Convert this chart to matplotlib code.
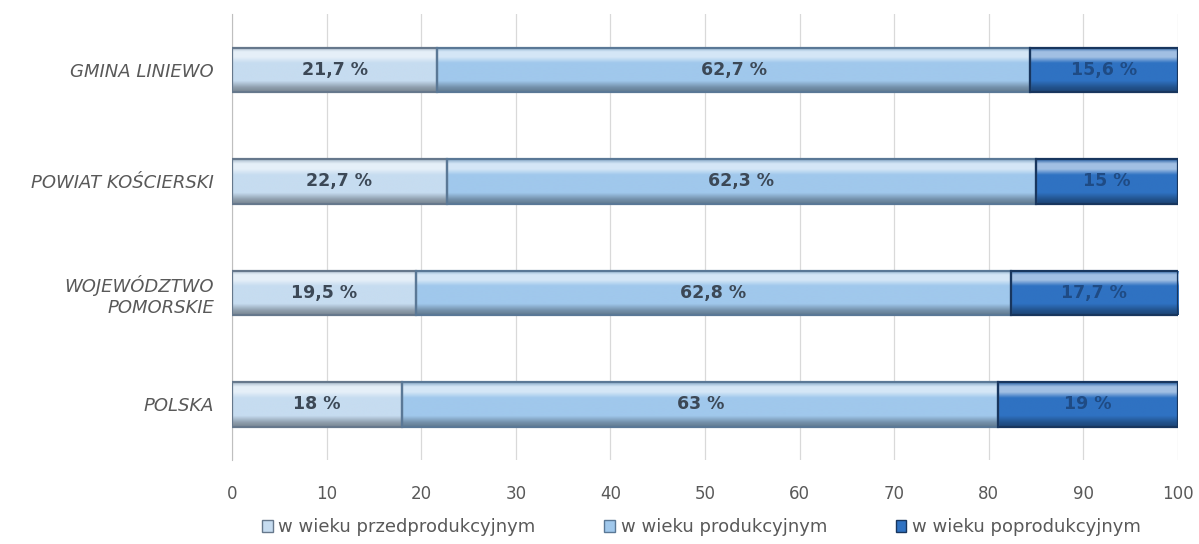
import numpy as np
import matplotlib.pyplot as plt
import matplotlib.colors as mcolors
from matplotlib.patches import Patch

# === Dane ===
regions = ["POLSKA", "WOJEWÓDZTWO\nPOMORSKIE", "POWIAT KOŚCIERSKI", "GMINA LINIEWO"]
przed = [18, 19.5, 22.7, 21.7]
prod = [63, 62.8, 62.3, 62.7]
po = [19, 17.7, 15, 15.6]
labels_przed = ["18 %", "19,5 %", "22,7 %", "21,7 %"]
labels_prod = ["63 %", "62,8 %", "62,3 %", "62,7 %"]
labels_po = ["19 %", "17,7 %", "15 %", "15,6 %"]
series_names = ["w wieku przedprodukcyjnym", "w wieku produkcyjnym", "w wieku poprodukcyjnym"]

colors = ["#c6dcf0", "#a0c8ec", "#2f72c2"]
edge_colors = ["#66788c", "#5a7896", "#18365e"]
text_colors = ["#3c4856", "#3c4856", "#1f4b84"]


def gradient_fill(ax, bar, base):
    """Cieniowanie słupka w stylu fazowanym: jasny pas u góry, ciemniejszy dół."""
    x0, y0 = bar.get_x(), bar.get_y()
    w, h = bar.get_width(), bar.get_height()
    rgb = np.array(mcolors.to_rgb(base))
    light = rgb + (1 - rgb) * 0.55
    dark = rgb * 0.72
    stops = [0.0, 0.1, 0.22, 0.35, 0.75, 0.9, 1.0]
    cols = [rgb * 0.85, light, light, rgb, rgb, dark, dark * 0.85]
    t = np.linspace(0, 1, 96)
    prof = np.stack([np.interp(t, stops, [c[i] for c in cols]) for i in range(3)], axis=1)
    img = np.clip(prof[:, None, :], 0, 1)
    # wiersz 0 obrazu = górna krawędź słupka
    im = ax.imshow(img, extent=(x0, x0 + w, y0, y0 + h), aspect="auto",
                   interpolation="bilinear", zorder=2)
    im.set_clip_path(bar)


fig = plt.figure(figsize=(11.99, 5.44), dpi=100)
ax = fig.add_axes([0.1935, 0.154, 0.789, 0.82])

y = np.arange(len(regions))
left = np.zeros(len(regions))
for vals, labs, col, ec, tc in zip([przed, prod, po],
                                   [labels_przed, labels_prod, labels_po],
                                   colors, edge_colors, text_colors):
    bars = ax.barh(y, vals, left=left, height=0.4, color=col,
                   edgecolor=ec, linewidth=1.6, zorder=3)
    for bar in bars:
        bar.set_facecolor("none")
        gradient_fill(ax, bar, col)
    for yi, v, l0, lab in zip(y, vals, left, labs):
        ax.text(l0 + v / 2, yi, lab, ha="center", va="center", fontsize=12.5,
                color=tc, fontweight="bold", zorder=5)
    left = left + np.array(vals)

ax.set_xlim(0, 100)
ax.set_ylim(-0.5, len(regions) - 0.5)
ax.set_xticks(range(0, 101, 10))
ax.set_yticks(y)
ax.set_yticklabels(regions, fontsize=13, style="italic", color="#595959",
                   ha="right", multialignment="right")
ax.tick_params(axis="x", labelsize=12, colors="#595959", length=0, pad=18)
ax.tick_params(axis="y", length=0, pad=13)
ax.grid(axis="x", color="#d9d9d9", linewidth=0.9, zorder=0)
ax.set_axisbelow(True)
for side in ["top", "right", "bottom"]:
    ax.spines[side].set_visible(False)
ax.spines["left"].set_color("#bfbfbf")

handles = [Patch(facecolor=c, edgecolor=e) for c, e in zip(colors, edge_colors)]
fig.legend(handles, series_names, loc="center", bbox_to_anchor=(0.585, 0.031),
           ncol=3, frameon=False, fontsize=13, handlelength=0.6, handleheight=0.6,
           handletextpad=0.3, columnspacing=3.8, labelcolor="#595959")

fig.savefig("out.png", dpi=100)
